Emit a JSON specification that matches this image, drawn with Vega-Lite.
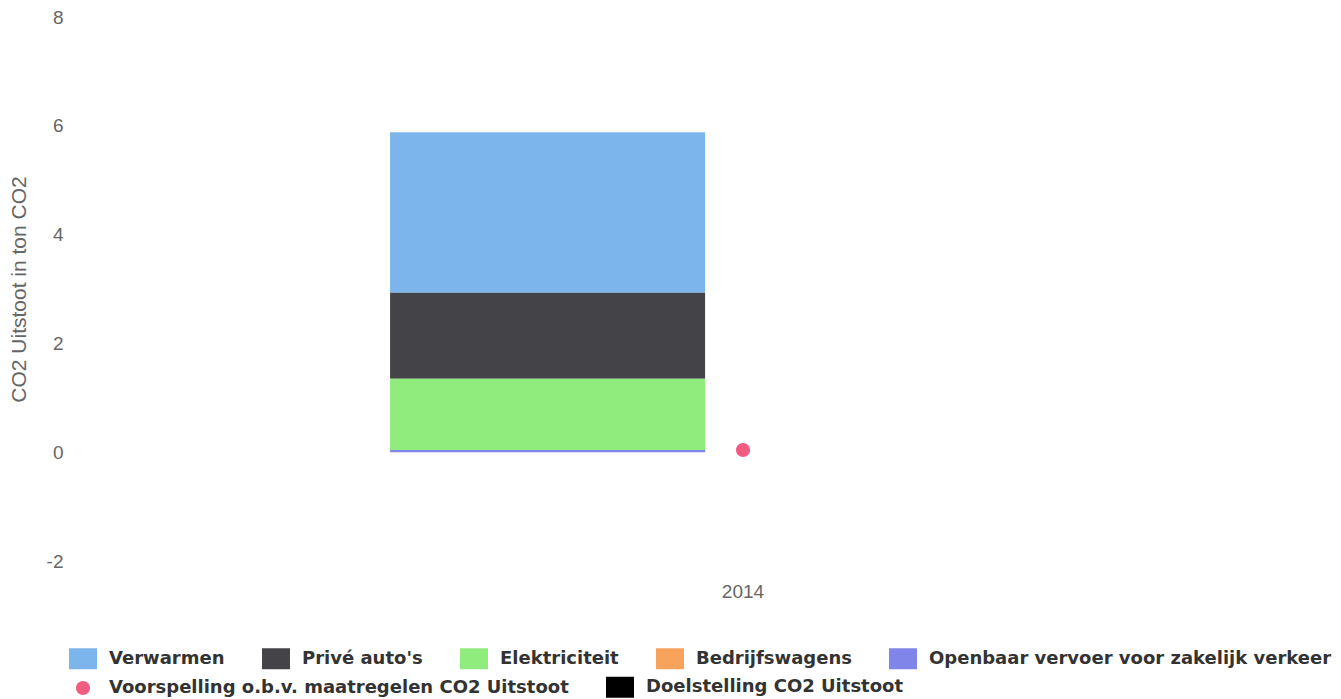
{
  "$schema": "https://vega.github.io/schema/vega-lite/v6.json",
  "width": 1196,
  "height": 544,
  "autosize": {"type": "none"},
  "padding": {"left": 145, "top": 17, "right": 0, "bottom": 138},
  "background": "white",
  "datasets": {
    "uitstoot": [
      {"jaar": "2014", "reeks": "Verwarmen", "waarde": 2.95, "volgorde": 0, "stapel": "Uitstoot"},
      {"jaar": "2014", "reeks": "Privé auto's", "waarde": 1.58, "volgorde": 1, "stapel": "Uitstoot"},
      {"jaar": "2014", "reeks": "Elektriciteit", "waarde": 1.31, "volgorde": 2, "stapel": "Uitstoot"},
      {"jaar": "2014", "reeks": "Bedrijfswagens", "waarde": 0, "volgorde": 3, "stapel": "Uitstoot"},
      {"jaar": "2014", "reeks": "Openbaar vervoer voor zakelijk verkeer", "waarde": 0.04, "volgorde": 4, "stapel": "Uitstoot"}
    ],
    "voorspelling": [
      {"jaar": "2014", "reeks": "Voorspelling o.b.v. maatregelen CO2 Uitstoot", "waarde": 0.04}
    ]
  },
  "config": {
    "view": {"stroke": null},
    "legend": {
      "title": null,
      "padding": 0,
      "labelFont": "DejaVu Sans",
      "labelFontWeight": "bold",
      "labelFontSize": 18,
      "labelColor": "#333333",
      "labelLimit": 700,
      "labelOffset": 12,
      "symbolSize": 784,
      "symbolStrokeWidth": 0,
      "symbolOpacity": 1,
      "columnPadding": 37,
      "rowPadding": 0
    }
  },
  "layer": [
    {
      "data": {"name": "uitstoot"},
      "mark": {"type": "bar"},
      "encoding": {
        "x": {
          "field": "jaar",
          "type": "nominal",
          "scale": {"paddingInner": 0, "paddingOuter": 0},
          "axis": {
            "title": null,
            "labelAngle": 0,
            "domain": false,
            "ticks": false,
            "tickSize": 0,
            "grid": false,
            "labelPadding": 21,
            "labelFont": "Liberation Sans",
            "labelFontSize": 19,
            "labelColor": "#666666"
          }
        },
        "xOffset": {
          "field": "stapel",
          "type": "nominal",
          "scale": {"domain": ["Uitstoot", "Doelstelling"], "paddingInner": 0.194, "paddingOuter": 0.627}
        },
        "y": {
          "field": "waarde",
          "type": "quantitative",
          "stack": "zero",
          "scale": {"domain": [-2, 8], "nice": false, "zero": false},
          "axis": {
            "values": [-2, 0, 2, 4, 6, 8],
            "labelExpr": "'' + datum.value",
            "grid": false,
            "domain": false,
            "ticks": false,
            "tickSize": 0,
            "labelPadding": 82,
            "labelFont": "Liberation Sans",
            "labelFontSize": 19,
            "labelColor": "#666666",
            "title": "CO2 Uitstoot in ton CO2",
            "titleFont": "Liberation Sans",
            "titleFontSize": 21,
            "titleFontWeight": "normal",
            "titleColor": "#666666",
            "titlePadding": 17
          }
        },
        "color": {
          "field": "reeks",
          "type": "nominal",
          "scale": {
            "domain": ["Verwarmen", "Privé auto's", "Elektriciteit", "Bedrijfswagens", "Openbaar vervoer voor zakelijk verkeer"],
            "range": ["#7cb5ec", "#434348", "#90ed7d", "#f7a35c", "#8085e9"]
          },
          "legend": {"orient": "none", "legendX": -76, "legendY": 627.5, "direction": "horizontal", "symbolType": "M-1,-0.75H1V0.75H-1Z"}
        },
        "order": {"field": "volgorde", "type": "quantitative", "sort": "descending"}
      }
    },
    {
      "data": {"name": "voorspelling"},
      "mark": {"type": "point", "filled": true, "opacity": 1, "size": 784, "strokeWidth": 0},
      "encoding": {
        "x": {"field": "jaar", "type": "nominal"},
        "y": {"field": "waarde", "type": "quantitative"},
        "fill": {
          "field": "reeks",
          "type": "nominal",
          "scale": {
            "domain": ["Voorspelling o.b.v. maatregelen CO2 Uitstoot", "Doelstelling CO2 Uitstoot"],
            "range": ["#f15c80", "#000000"]
          },
          "legend": {"orient": "none", "legendX": -76, "legendY": 656, "direction": "horizontal"}
        },
        "shape": {
          "field": "reeks",
          "type": "nominal",
          "scale": {
            "domain": ["Voorspelling o.b.v. maatregelen CO2 Uitstoot", "Doelstelling CO2 Uitstoot"],
            "range": ["M-0.5,0A0.5,0.5,0,1,1,0.5,0A0.5,0.5,0,1,1,-0.5,0Z", "M-1,-0.75H1V0.75H-1Z"]
          },
          "legend": {"orient": "none", "legendX": -76, "legendY": 656, "direction": "horizontal"}
        }
      }
    }
  ]
}
